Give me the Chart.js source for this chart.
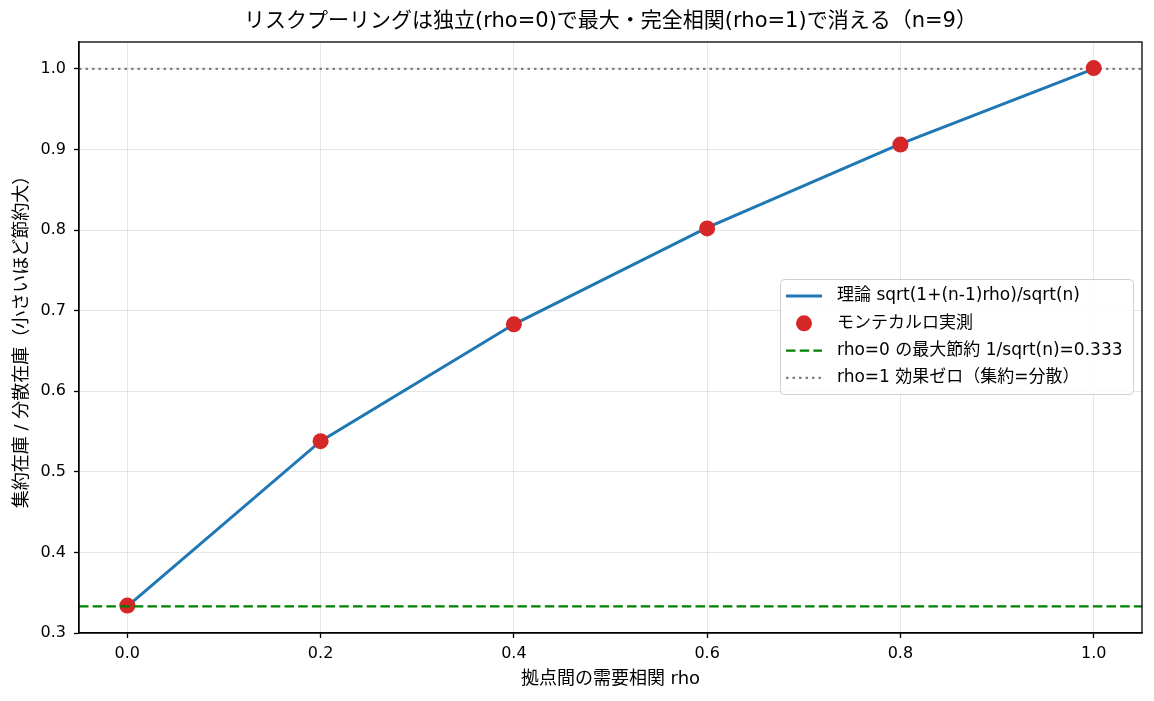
<!DOCTYPE html>
<html>
<head>
<meta charset="utf-8">
<script src="https://cdn.jsdelivr.net/npm/chart.js@4/dist/chart.umd.min.js"></script>
<style>
  html, body { margin: 0; padding: 0; background: #fff; }
  #wrap { width: 1154px; height: 701px; position: relative; }
</style>
</head>
<body>
<div id="wrap"><canvas id="poolingChart"></canvas></div>
<script>
// correlation values used for both the theory line and the simulation
const rhoValues = [0, 0.2, 0.4, 0.6, 0.8, 1.0];
const theoryVals = [0.333, 0.538, 0.683, 0.803, 0.907, 1.000];
const mcVals = [0.334, 0.538, 0.683, 0.802, 0.906, 1.001];

// reference lines
const maxSaving = 0.333;
const noEffect = 1.0;

// axes
const xMin = -0.05, xMax = 1.05;
const yMin = 0.3, yMax = 1.0333;
const xTickValues = [0, 0.2, 0.4, 0.6, 0.8, 1.0];
const yTickValues = [0.3, 0.4, 0.5, 0.6, 0.7, 0.8, 0.9, 1.0];

// texts
const chartTitle = 'リスクプーリングは独立(rho=0)で最大・完全相関(rho=1)で消える（n=9）';
const xTitle = '拠点間の需要相関 rho';
const yTitle = '集約在庫 / 分散在庫（小さいほど節約大）';
const legendLabels = [
  '理論 sqrt(1+(n-1)rho)/sqrt(n)',
  'モンテカルロ実測',
  'rho=0 の最大節約 1/sqrt(n)=0.333',
  'rho=1 効果ゼロ（集約=分散）'
];

// latin glyphs from DejaVu, japanese falls back to Noto CJK
const FONT = '"DejaVu Sans", "Noto Sans CJK JP", sans-serif';
const blue = '#1f77b4', red = '#d62728', green = '#008000', gray = '#808080';
const gridColor = 'rgba(176,176,176,0.32)';

const theoryData = rhoValues.map((r, i) => ({ x: r, y: theoryVals[i] }));
const mcData = rhoValues.map((r, i) => ({ x: r, y: mcVals[i] }));

// frame, title, axis titles and legend box
const decorations = {
  id: 'decorations',
  afterDraw(chart) {
    const c = chart.ctx;
    const a = chart.chartArea;
    c.save();
    // axes box
    c.strokeStyle = '#000';
    c.lineWidth = 1.3;
    c.strokeRect(a.left, a.top, a.right - a.left, a.bottom - a.top);

    // title
    c.fillStyle = '#000';
    c.textAlign = 'center';
    c.textBaseline = 'middle';
    c.font = '21px ' + FONT;
    c.fillText(chartTitle, (a.left + a.right) / 2, 22);

    // axis titles
    c.font = '18px ' + FONT;
    c.fillText(xTitle, (a.left + a.right) / 2, 679);
    c.save();
    c.translate(22, (a.top + a.bottom) / 2);
    c.rotate(-Math.PI / 2);
    c.fillText(yTitle, 0, 0);
    c.restore();

    // legend
    const lx = 780, ly = 279, lw = 353, lh = 115;
    c.beginPath();
    c.roundRect(lx + 0.5, ly + 0.5, lw, lh, 4);
    c.fillStyle = 'rgba(255,255,255,0.85)';
    c.fill();
    c.strokeStyle = '#d0d0d0';
    c.lineWidth = 1;
    c.stroke();

    const ds = chart.data.datasets;
    legendLabels.forEach((txt, i) => {
      const yy = 296 + i * 27.3;
      const d = ds[i];
      if (d.showLine) {
        c.beginPath();
        c.setLineDash(d.borderDash || []);
        c.strokeStyle = d.borderColor;
        c.lineWidth = d.borderWidth;
        c.moveTo(786, yy);
        c.lineTo(822, yy);
        c.stroke();
        c.setLineDash([]);
      } else {
        c.beginPath();
        c.fillStyle = d.backgroundColor;
        c.arc(804, yy, d.pointRadius, 0, Math.PI * 2);
        c.fill();
      }
      c.fillStyle = '#000';
      c.textAlign = 'left';
      c.font = '17px ' + FONT;
      c.fillText(txt, 837, yy);
    });
    c.restore();
  }
};

new Chart(document.getElementById('poolingChart'), {
  type: 'scatter',
  data: {
    datasets: [
      {
        label: legendLabels[0],
        data: theoryData,
        showLine: true,
        borderColor: blue,
        backgroundColor: blue,
        borderWidth: 3,
        pointRadius: 0,
        tension: 0,
        order: 4
      },
      {
        label: legendLabels[1],
        data: mcData,
        showLine: false,
        backgroundColor: red,
        borderColor: red,
        borderWidth: 0,
        pointRadius: 8,
        order: 2
      },
      {
        label: legendLabels[2],
        data: [{ x: xMin, y: maxSaving }, { x: xMax, y: maxSaving }],
        showLine: true,
        borderColor: green,
        borderWidth: 2.4,
        borderDash: [9.5, 4.2],
        pointRadius: 0,
        order: 1
      },
      {
        label: legendLabels[3],
        data: [{ x: xMin, y: noEffect }, { x: xMax, y: noEffect }],
        showLine: true,
        borderColor: gray,
        borderWidth: 2.4,
        borderDash: [2.5, 4],
        pointRadius: 0,
        order: 3
      }
    ]
  },
  options: {
    responsive: true,
    maintainAspectRatio: false,
    animation: false,
    layout: { padding: { top: 42, right: 12, left: 0, bottom: 0 } },
    plugins: {
      legend: { display: false },
      title: { display: false },
      tooltip: { enabled: false }
    },
    scales: {
      x: {
        type: 'linear',
        min: xMin,
        max: xMax,
        afterBuildTicks: s => { s.ticks = xTickValues.map(v => ({ value: v })); },
        afterFit: s => { s.height = 68; },
        grid: { color: gridColor, tickColor: '#000', tickLength: 5, tickWidth: 1.3, drawTicks: true },
        border: { display: true, color: '#000', width: 1.3 },
        ticks: {
          padding: 6,
          color: '#000',
          font: { family: FONT, size: 16 },
          callback: v => Number(v).toFixed(1)
        }
      },
      y: {
        type: 'linear',
        min: yMin,
        max: yMax,
        afterBuildTicks: s => { s.ticks = yTickValues.map(v => ({ value: v })); },
        afterFit: s => { s.width = 79; },
        grid: { color: gridColor, tickColor: '#000', tickLength: 5, tickWidth: 1.3, drawTicks: true },
        border: { display: true, color: '#000', width: 1.3 },
        ticks: {
          padding: 8,
          color: '#000',
          font: { family: FONT, size: 16 },
          callback: v => Number(v).toFixed(1)
        }
      }
    }
  },
  plugins: [decorations]
});
</script>
</body>
</html>
